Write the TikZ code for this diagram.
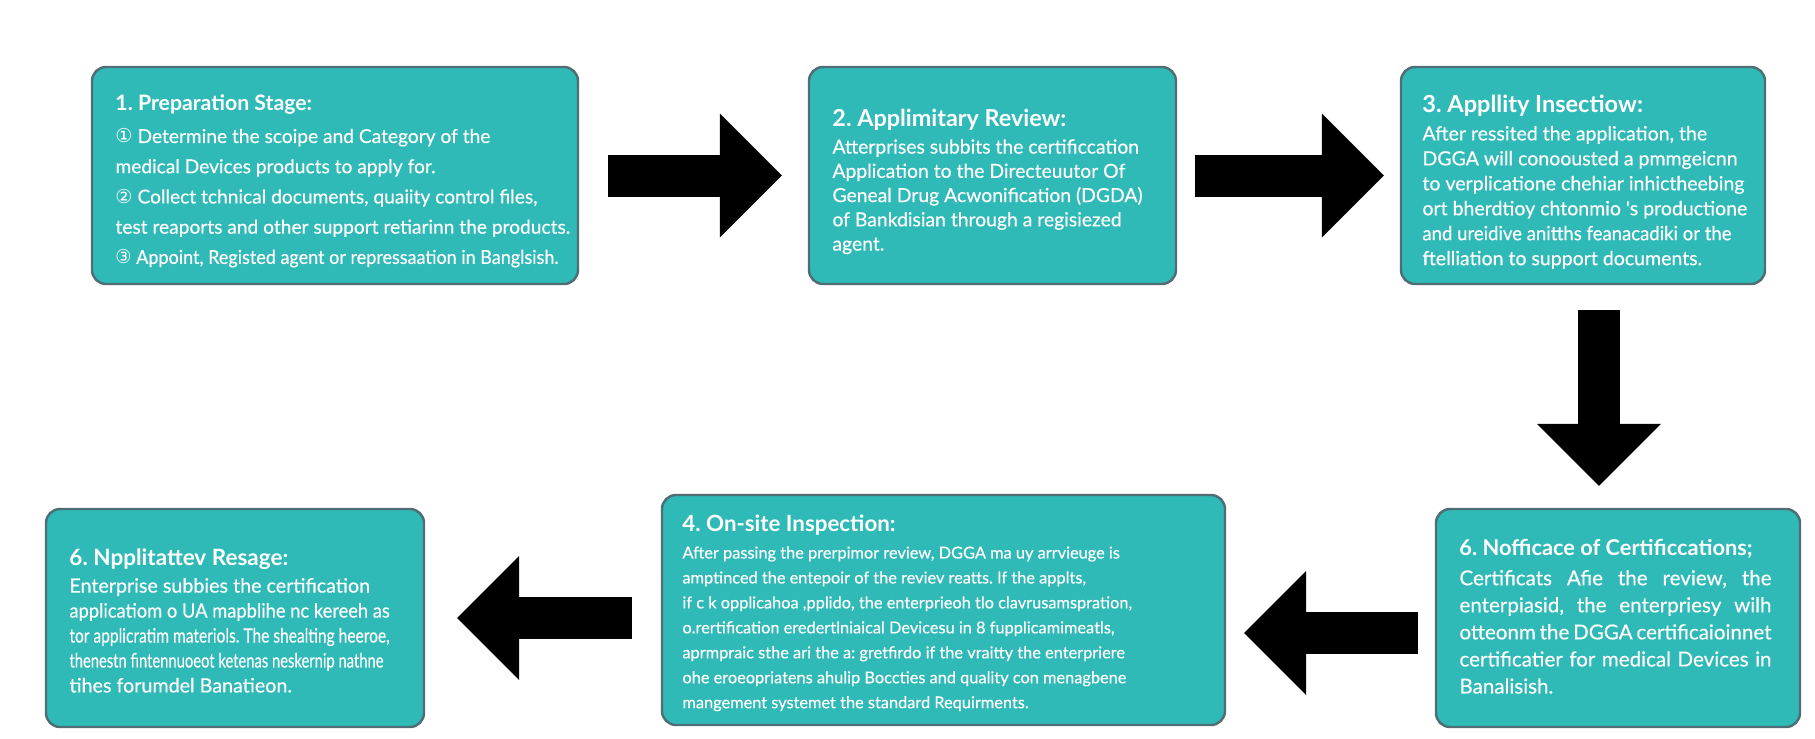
\documentclass[tikz,border=0pt]{standalone}
\usepackage{fontspec}
\setmainfont{Lato}
\newfontfamily\bodyfont{Lato}[FakeBold=0.35]
\newfontfamily\circfont{DejaVu Sans}
\usetikzlibrary{arrows.meta}
\definecolor{tealbox}{HTML}{2FBAB8}
\definecolor{edge}{HTML}{4E6E73}
\tikzset{
  stagebox/.style={draw=edge,fill=tealbox,rounded corners=4pt,line width=.7pt,inner sep=0pt},
  stagetext/.style={text=white,align=left,inner sep=0pt,anchor=north west},
  blockarrow/.style={-{Triangle[length=6.2mm,width=12.4mm,line width=0pt]},line width=4.2mm,draw=black},
}
\newcommand{\stagetitle}[2][6.2]{{\normalfont\fontsize{#1}{8}\selectfont\bfseries #2}\\[.7pt]}
\newcommand{\squeeze}[2]{\scalebox{#1}[1]{#2}}
\newcommand{\fullline}[1]{\makebox[3.12cm][s]{#1}}
\frenchspacing

\begin{document}
\begin{tikzpicture}[x=1cm,y=1cm]
  \useasboundingbox[fill=white] (0,0) rectangle (18.15,7.38);

  % Top row: preparation, review, inspection.
  \node[stagebox,minimum width=4.86cm,minimum height=2.17cm] (prep) at (3.35,5.625) {};
  \node[stagetext,font=\bodyfont\fontsize{5.45}{8.6}\selectfont] (preptext) at ([shift={(.24,-.28)}]prep.north west)
    {\stagetitle[6.05]{1. Preparation Stage:}
     {\circfont ①} Determine the scoipe and Category of the\\
     medical Devices products to apply for.\\
     {\circfont ②} Collect tchnical documents, quaiity control files,\\
     test reaports and other support retiarinn the products.\\
     \squeeze{.94}{{\circfont ③} Appoint, Registed agent or repressaation in Banglsish.}};
  \node[stagebox,minimum width=3.67cm,minimum height=2.17cm] (review) at (9.925,5.625) {};
  \node[stagetext,font=\bodyfont\fontsize{5.5}{6.9}\selectfont] (reviewtext) at ([shift={(.24,-.43)}]review.north west)
    {\stagetitle[6.65]{2. Applimitary Review:}
     Atterprises subbits the certificcation\\
     Application to the Directeuutor Of\\
     Geneal Drug Acwonification (DGDA)\\
     of Bankdisian through a regisiezed\\
     agent.};
  \node[stagebox,minimum width=3.64cm,minimum height=2.17cm] (check) at (15.83,5.625) {};
  \node[stagetext,font=\bodyfont\fontsize{5.55}{7.1}\selectfont] (checktext) at ([shift={(.22,-.29)}]check.north west)
    {\stagetitle[6.7]{3. Appllity Insectiow:}
     After ressited the application, the\\
     DGGA will conoousted a pmmgeicnn\\
     to verplicatione chehiar inhictheebing\\
     ort bherdtioy chtonmio 's productione\\
     \squeeze{.95}{and ureidive anitths feanacadiki or the}\\
     ftelliation to support documents.};

  % Bottom row, read right to left.
  \node[stagebox,minimum width=5.63cm,minimum height=2.30cm] (onsite) at (9.435,1.28) {};
  \node[stagetext,font=\bodyfont\fontsize{4.65}{7.1}\selectfont] (onsitetext) at ([shift={(.21,-.20)}]onsite.north west)
    {\stagetitle[6.35]{4. On-site Inspection:}
     After passing the prerpimor review, DGGA ma uy arrvieuge is\\
     amptinced the entepoir of the reviev reatts. If the applts,\\
     if c k opplicahoa ,pplido, the enterprieoh tlo clavrusamspration,\\
     o.rertification eredertlniaical Devicesu in 8 fupplicamimeatls,\\
     aprmpraic sthe ari the a: gretfirdo if the vraitty the enterpriere\\
     ohe eroeopriatens ahulip Boccties and quality con menagbene\\
     mangement systemet the standard Requirments.};
  \node[stagebox,minimum width=3.78cm,minimum height=2.18cm] (apply) at (2.35,1.20) {};
  \node[stagetext,font=\bodyfont\fontsize{5.6}{7.1}\selectfont] (applytext) at ([shift={(.24,-.40)}]apply.north west)
    {\stagetitle[6.4]{6. Npplitattev Resage:}
     Enterprise subbies the certification\\
     \squeeze{.93}{applicatiom o UA mapblihe nc kereeh as}\\
     \squeeze{.79}{tor applicratim materiols. The shealting heeroe,}\\
     \squeeze{.75}{thenestn fintennuoeot ketenas neskernip nathne}\\
     tihes forumdel Banatieon.};
  \node[stagebox,minimum width=3.64cm,minimum height=2.18cm] (notice) at (16.18,1.20) {};
  \node[stagetext,font=\bodyfont\fontsize{5.85}{7.7}\selectfont] (noticetext) at ([shift={(.24,-.31)}]notice.north west)
    {\stagetitle[6.2]{6. Nofficace of Certificcations;}
     \fullline{Certificats Afie the review, the}\\
     \fullline{enterpiasid, the enterpriesy wilh}\\
     \fullline{otteonm the DGGA certificaioinnet}\\
     \fullline{certificatier for medical Devices in}\\
     Banalisish.};

  % Block arrows between the stages.
  \draw[blockarrow,shorten <=2.9mm,shorten >=2.6mm] (prep) -- (review);
  \draw[blockarrow,shorten <=1.8mm,shorten >=1.6mm] (review) -- (check);
  \coordinate (down) at ([xshift=1.6mm]check.south);
  \draw[blockarrow,shorten <=2.5mm,shorten >=2.2mm] (down) -- (down |- notice.north);
  \coordinate (back) at ([yshift=-1.5mm]notice.west);
  \draw[blockarrow,shorten <=1.7mm,shorten >=1.8mm] (back) -- (back -| onsite.east);
  \draw[blockarrow,shorten <=2.9mm,shorten >=3.2mm] (onsite.west |- apply.east) -- (apply.east);
\end{tikzpicture}
\end{document}
